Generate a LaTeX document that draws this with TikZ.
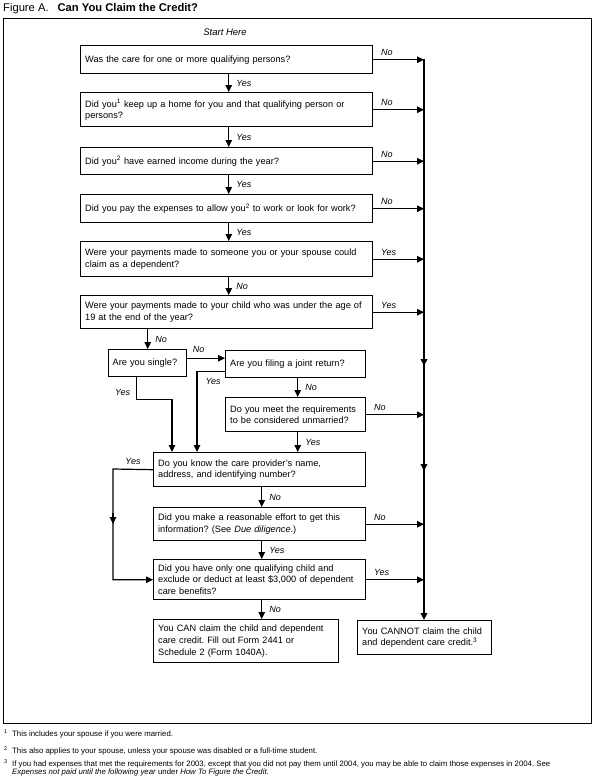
\documentclass[tikz,border=0pt]{standalone}
\usepackage{fontspec}
\setmainfont{Liberation Sans}
\usetikzlibrary{arrows.meta,calc}
\frenchspacing
\begin{document}
\begin{tikzpicture}[x=1pt,y=-1pt,
  qbox/.style={draw, line width=1.4pt, inner xsep=4.5pt, inner ysep=1pt, align=left,
    anchor=north west, font=\fontsize{9.2}{11.6}\selectfont},
  conn/.style={line width=1.2pt, -{Triangle[length=7pt,width=6.5pt]}},
  mainline/.style={line width=1.8pt},
  lbl/.style={font=\fontsize{9}{10}\selectfont\itshape, inner sep=0pt},
  slbl/.style={lbl, pos=0, anchor=base west, xshift=7pt, yshift=4pt},
  dlbl/.style={lbl, right=7pt},
  fn/.style={font=\fontsize{7.8}{8}\selectfont, inner sep=0pt, anchor=base west},
]
\useasboundingbox (0,0) rectangle (595,776);

% title and frame
\node[anchor=base west, inner sep=0pt, font=\fontsize{11.2}{12}\selectfont] (title) at (3,12)
  {Figure A.\hspace{9pt}\textbf{Can You Claim the Credit?}};
\node[draw, line width=1.4pt, anchor=north west, minimum width=588pt, minimum height=705pt,
  inner sep=0pt] (frame) at (3,18) {};
\node[lbl, font=\fontsize{9.5}{10}\selectfont\itshape] (start) at (225,32) {Start Here};

% main column
\node[qbox, text width=283pt, minimum height=28pt] (b1) at (80,45)
  {Was the care for one or more qualifying persons?};
\node[qbox, text width=283pt, minimum height=34pt] (b2) at (80,92)
  {\mbox{Did you\textsuperscript{1} keep up a home for you and that qualifying person or}\\persons?};
\node[qbox, text width=283pt, minimum height=27pt] (b3) at (80,147)
  {Did you\textsuperscript{2} have earned income during the year?};
\node[qbox, text width=283pt, minimum height=28pt] (b4) at (80,194)
  {\mbox{Did you pay the expenses to allow you\textsuperscript{2} to work or look for work?}};
\node[qbox, text width=283pt, minimum height=35pt] (b5) at (80,241)
  {\mbox{Were your payments made to someone you or your spouse could}\\claim as a dependent?};
\node[qbox, text width=283pt, minimum height=33pt] (b6) at (80,295)
  {\mbox{Were your payments made to your child who was under the age of}\\19 at the end of the year?};

\node[qbox, inner xsep=4pt, text width=70pt, minimum height=27pt] (single) at (108,349)
  {Are you single?};
\node[qbox, text width=131pt, minimum height=27pt] (joint) at (225,350)
  {Are you filing a joint return?};
\node[qbox, text width=131pt, minimum height=34pt] (meet) at (225,397)
  {\mbox{Do you meet the requirements}\\\mbox{to be considered unmarried?}};
\node[qbox, text width=203pt, minimum height=34pt] (know) at (153,452)
  {Do you know the care provider’s name,\\address, and identifying number?};
\node[qbox, text width=203pt, minimum height=33pt] (reason) at (153,507)
  {\mbox{Did you make a reasonable effort to get this}\\information? (See \textit{Due diligence}.)};
\node[qbox, text width=203pt, minimum height=40pt] (only) at (153,559)
  {\mbox{Did you have only one qualifying child and}\\\mbox{exclude or deduct at least \$3,000 of dependent}\\care benefits?};
\node[qbox, text width=176pt, minimum height=43pt] (can) at (153,619)
  {\mbox{You CAN claim the child and dependent}\\care credit. Fill out Form 2441 or\\Schedule 2 (Form 1040A).};
\node[qbox, text width=125pt, minimum height=34pt] (cannot) at (357,620)
  {\mbox{You CANNOT claim the child}\\and dependent care credit.\textsuperscript{3}};

% main vertical line
\coordinate (vtop) at (424,59);
\coordinate (vA) at (424,354);
\coordinate (vB) at (424,366);
\coordinate (vC) at (424,459);
\coordinate (vD) at (424,471);
\draw[mainline, -{Triangle[length=7pt,width=6.5pt]}] (vtop) -- (cannot.north -| vtop);
\draw[mainline, -{Triangle[length=7pt,width=6.5pt]}] (vA) -- (vB);
\draw[mainline, -{Triangle[length=7pt,width=6.5pt]}] (vC) -- (vD);

% side arrows to the vertical line
\draw[conn] (b1.east) -- node[slbl]{No} (b1.east -| vtop);
\draw[conn] (b2.east) -- node[slbl]{No} (b2.east -| vtop);
\draw[conn] (b3.east) -- node[slbl]{No} (b3.east -| vtop);
\draw[conn] (b4.east) -- node[slbl]{No} (b4.east -| vtop);
\draw[conn] (b5.east) -- node[slbl]{Yes} (b5.east -| vtop);
\draw[conn] (b6.east) -- node[slbl]{Yes} (b6.east -| vtop);
\draw[conn] (meet.east) -- node[slbl]{No} (meet.east -| vtop);
\draw[conn] (reason.east) -- node[slbl]{No} (reason.east -| vtop);
\draw[conn] (only.east) -- node[slbl]{Yes} (only.east -| vtop);

% down arrows in the main column
\draw[conn] ([xshift=2pt]b1.south) -- node[dlbl]{Yes} ([xshift=2pt]b1.south |- b2.north);
\draw[conn] ([xshift=2pt]b2.south) -- node[dlbl]{Yes} ([xshift=2pt]b2.south |- b3.north);
\draw[conn] ([xshift=2pt]b3.south) -- node[dlbl]{Yes} ([xshift=2pt]b3.south |- b4.north);
\draw[conn] ([xshift=2pt]b4.south) -- node[dlbl]{Yes} ([xshift=2pt]b4.south |- b5.north);
\draw[conn] ([xshift=2pt]b5.south) -- node[dlbl]{No} ([xshift=2pt]b5.south |- b6.north);
\draw[conn] (single.north |- b6.south) -- node[dlbl]{No} (single.north);

% lower part
\draw[conn] ([yshift=5pt]single.east) -- node[lbl, pos=0.3, above=5pt]{No} ([yshift=5pt]single.east -| joint.west);
\draw[conn] ([yshift=-7pt]joint.west) -| node[lbl, pos=0.565, right=8pt]{Yes} ([xshift=44pt]know.north west);
\draw[conn] ([xshift=-11pt]single.south) -- node[lbl, pos=0.7, left=6pt]{Yes} ++(0,22) -| ([xshift=19pt]know.north west);
\draw[conn] ([xshift=2pt]joint.south) -- node[dlbl]{No} ([xshift=2pt]joint.south |- meet.north);
\draw[conn] ([xshift=2pt]meet.south) -- node[dlbl]{Yes} ([xshift=2pt]meet.south |- know.north);
\draw[conn] ([xshift=2pt]know.south) -- node[dlbl]{No} ([xshift=2pt]know.south |- reason.north);
\draw[conn] ([xshift=2pt]reason.south) -- node[dlbl]{Yes} ([xshift=2pt]reason.south |- only.north);
\draw[conn] ([xshift=2pt]only.south) -- node[dlbl]{No} ([xshift=2pt]only.south |- can.north);

\coordinate (lx) at (113,469);
\coordinate (lA) at (113,513);
\coordinate (lB) at (113,524);
\draw[conn] (know.west) -- node[lbl, above=4pt]{Yes} (lx) |- (only.west);
\draw[conn] (lA) -- (lB);

% footnotes
\node[fn] (fn1) at (4,736) {\makebox[8pt][l]{\textsuperscript{1}}This includes your spouse if you were married.};
\node[fn] (fn2) at (4,753) {\makebox[8pt][l]{\textsuperscript{2}}This also applies to your spouse, unless your spouse was disabled or a full-time student.};
\node[fn] (fn3) at (4,766) {\makebox[8pt][l]{\textsuperscript{3}}If you had expenses that met the requirements for 2003, except that you did not pay them until 2004, you may be able to claim those expenses in 2004. See};
\node[fn] (fn3b) at (12,774) {\textit{Expenses not paid until the following year} under \textit{How To Figure the Credit}.};
\end{tikzpicture}
\end{document}
